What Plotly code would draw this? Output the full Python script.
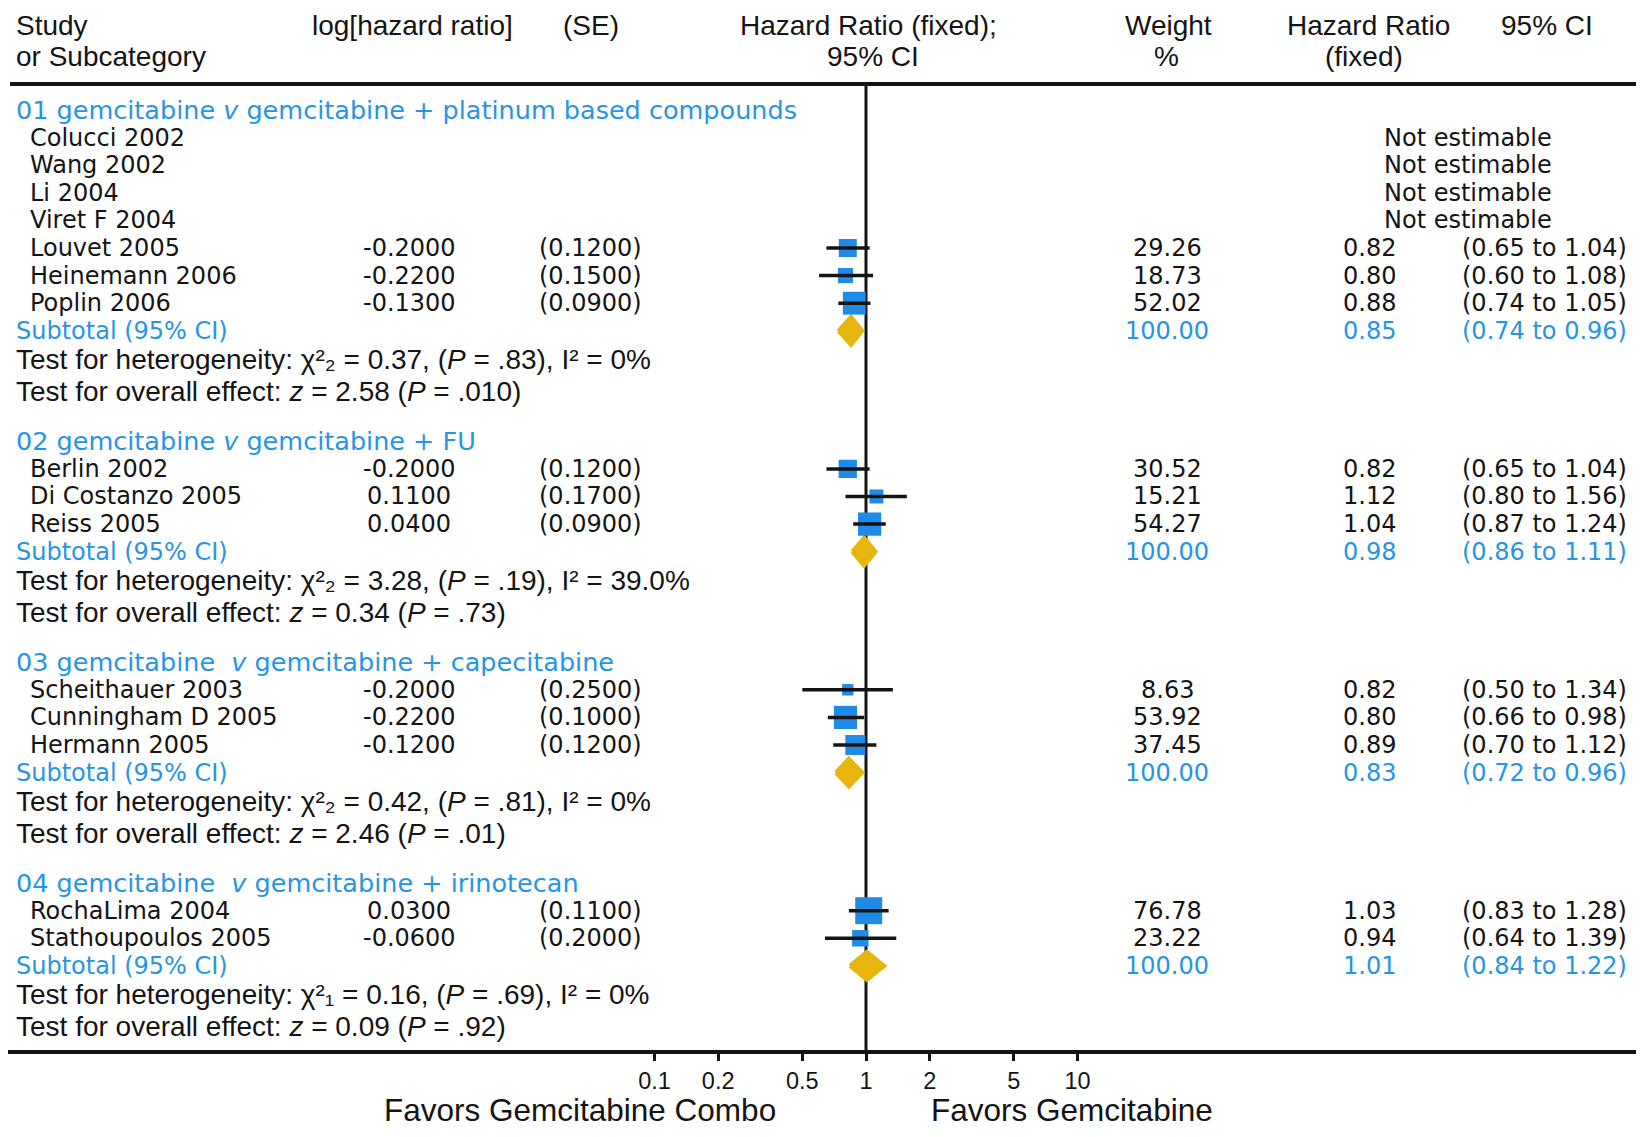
import math
import plotly.graph_objects as go

# ---------------- data ----------------
group_titles = [
    "01 gemcitabine <i>v</i> gemcitabine + platinum based compounds",
    "02 gemcitabine <i>v</i> gemcitabine + FU",
    "03 gemcitabine \u00a0<i>v</i> gemcitabine + capecitabine",
    "04 gemcitabine \u00a0<i>v</i> gemcitabine + irinotecan",
]
study = ["Colucci 2002", "Wang 2002", "Li 2004", "Viret F 2004", "Louvet 2005",
         "Heinemann 2006", "Poplin 2006",
         "Berlin 2002", "Di Costanzo 2005", "Reiss 2005",
         "Scheithauer 2003", "Cunningham D 2005", "Hermann 2005",
         "RochaLima 2004", "Stathoupoulos 2005"]
study_group = [0, 0, 0, 0, 0, 0, 0, 1, 1, 1, 2, 2, 2, 3, 3]
log_hr = [None, None, None, None, -0.2000, -0.2200, -0.1300,
          -0.2000, 0.1100, 0.0400,
          -0.2000, -0.2200, -0.1200,
          0.0300, -0.0600]
se = [None, None, None, None, 0.1200, 0.1500, 0.0900,
      0.1200, 0.1700, 0.0900,
      0.2500, 0.1000, 0.1200,
      0.1100, 0.2000]
weight = [None, None, None, None, 29.26, 18.73, 52.02,
          30.52, 15.21, 54.27,
          8.63, 53.92, 37.45,
          76.78, 23.22]
hr = [None, None, None, None, 0.82, 0.80, 0.88,
      0.82, 1.12, 1.04,
      0.82, 0.80, 0.89,
      1.03, 0.94]
ci_lo = [None, None, None, None, 0.65, 0.60, 0.74,
         0.65, 0.80, 0.87,
         0.50, 0.66, 0.70,
         0.83, 0.64]
ci_hi = [None, None, None, None, 1.04, 1.08, 1.05,
         1.04, 1.56, 1.24,
         1.34, 0.98, 1.12,
         1.28, 1.39]

sub_weight = [100.00, 100.00, 100.00, 100.00]
sub_hr = [0.85, 0.98, 0.83, 1.01]
sub_lo = [0.74, 0.86, 0.72, 0.84]
sub_hi = [0.96, 1.11, 0.96, 1.22]

het_chi = ["0.37", "3.28", "0.42", "0.16"]
het_df = ["\u2082", "\u2082", "\u2082", "\u2081"]
het_p = [".83", ".19", ".81", ".69"]
het_i2 = ["0%", "39.0%", "0%", "0%"]
z_val = ["2.58", "0.34", "2.46", "0.09"]
z_p = [".010", ".73", ".01", ".92"]

tick_vals = [0.1, 0.2, 0.5, 1, 2, 5, 10]
tick_text = ["0.1", "0.2", "0.5", "1", "2", "5", "10"]
null_hr = 1.0

# ---------------- layout helpers ----------------
OFF = 8                     # body margin of the html page
W_FIG, H_FIG = 1644 - 2 * OFF, 1137 - 2 * OFF
TOP_RULE = 84
AXIS_Y = 1050
X_ONE = 866                 # page pixel of HR = 1
DEC = 211.5                 # pixels per decade

def XP(p):
    return (p - OFF) / W_FIG

def YP(p):
    return (AXIS_Y - p) / (AXIS_Y - OFF)

BLACK = "#141414"
BLUE = "#2894e4"
SQ = "#1f8be6"
GOLD = "#e6b60c"
BODY = "DejaVu Sans"
COND = "Liberation Sans, Arial, DejaVu Sans, sans-serif"
BS = 24
CS = 28

annotations = []

def txt(text, x, y, anchor="left", font=BODY, size=BS, color=BLACK):
    annotations.append(dict(text=text, x=XP(x), y=YP(y), xref="paper", yref="paper",
                            xanchor=anchor, yanchor="middle", showarrow=False,
                            font=dict(family=font, size=size, color=color)))

# headers
txt("Study", 14, 25, font=COND, size=CS)
txt("or Subcategory", 14, 57, font=COND, size=CS)
txt("log[hazard ratio]", 310, 25, font=COND, size=CS)
txt("(SE)", 591, 25, "center", font=COND, size=CS)
txt("Hazard Ratio (fixed);", 869, 25, "center", font=COND, size=CS)
txt("95% CI", 873, 57, "center", font=COND, size=CS)
txt("Weight", 1168, 25, "center", font=COND, size=CS)
txt("%", 1166, 57, "center", font=COND, size=CS)
txt("Hazard Ratio", 1368, 25, "center", font=COND, size=CS)
txt("(fixed)", 1364, 57, "center", font=COND, size=CS)
txt("95% CI", 1547, 25, "center", font=COND, size=CS)

fig = go.Figure()

# reference line at HR = 1
fig.add_trace(go.Scatter(x=[null_hr, null_hr], y=[TOP_RULE, AXIS_Y], mode="lines",
                         line=dict(color=BLACK, width=3), hoverinfo="skip", showlegend=False))

ROW = 27.6
sq_x, sq_y, sq_s = [], [], []
ln_x, ln_y = [], []
y = 110
for g in range(len(group_titles)):
    txt(group_titles[g], 14, y, size=25.5, color=BLUE)
    idx = [i for i in range(len(study)) if study_group[i] == g]
    for k, i in enumerate(idx):
        yy = y + ROW * (k + 1)
        txt(study[i], 28, yy)
        if hr[i] is None:
            txt("Not estimable", 1468, yy, "center")
            continue
        txt(f"{log_hr[i]:.4f}", 409, yy, "center")
        txt(f"({se[i]:.4f})", 590, yy, "center")
        txt(f"{weight[i]:.2f}", 1167, yy, "center")
        txt(f"{hr[i]:.2f}", 1369, yy, "center")
        txt(f"({ci_lo[i]:.2f} to {ci_hi[i]:.2f})", 1544, yy, "center")
        sq_x.append(hr[i])
        sq_y.append(yy)
        sq_s.append(3.5 + 2.68 * math.sqrt(weight[i]))
        ln_x += [ci_lo[i], ci_hi[i], None]
        ln_y += [yy, yy, None]
    ys = y + ROW * (len(idx) + 1)
    txt("Subtotal (95% CI)", 14, ys, color=BLUE)
    txt(f"{sub_weight[g]:.2f}", 1167, ys, "center", color=BLUE)
    txt(f"{sub_hr[g]:.2f}", 1369, ys, "center", color=BLUE)
    txt(f"({sub_lo[g]:.2f} to {sub_hi[g]:.2f})", 1544, ys, "center", color=BLUE)
    h = 14
    fig.add_trace(go.Scatter(
        x=[sub_lo[g], sub_hr[g], sub_hi[g], sub_hr[g], sub_lo[g]],
        y=[ys, ys - h, ys, ys + h, ys],
        mode="lines", fill="toself", fillcolor=GOLD,
        line=dict(color=GOLD, width=4), hoverinfo="skip", showlegend=False))
    yh = ys + 29
    txt(f"Test for heterogeneity: \u03c7\u00b2{het_df[g]} = {het_chi[g]}, "
        f"(<i>P</i> = {het_p[g]}), I\u00b2 = {het_i2[g]}", 14, yh, font=COND, size=CS)
    yo = yh + 31.5
    txt(f"Test for overall effect: <i>z</i> = {z_val[g]} (<i>P</i> = {z_p[g]})",
        14, yo, font=COND, size=CS)
    y = yo + 50

fig.add_trace(go.Scatter(x=sq_x, y=sq_y, mode="markers",
                         marker=dict(symbol="square", size=sq_s, color=SQ, opacity=1,
                                     line=dict(width=0)),
                         hoverinfo="skip", showlegend=False))
fig.add_trace(go.Scatter(x=ln_x, y=ln_y, mode="lines",
                         line=dict(color=BLACK, width=3.5), hoverinfo="skip", showlegend=False))

txt("Favors Gemcitabine Combo", 580, 1110, "center", font=COND, size=31.5)
txt("Favors Gemcitabine", 1072, 1110, "center", font=COND, size=31.5)

shapes = [
    dict(type="line", xref="paper", yref="y", x0=XP(10), x1=1, y0=TOP_RULE, y1=TOP_RULE,
         line=dict(color=BLACK, width=4)),
]

fig.update_layout(
    width=W_FIG, height=H_FIG,
    margin=dict(l=0, r=0, t=0, b=H_FIG - (AXIS_Y - OFF), pad=0),
    paper_bgcolor="white", plot_bgcolor="white",
    xaxis=dict(type="log", range=[(OFF - X_ONE) / DEC, (OFF + W_FIG - X_ONE) / DEC],
               tickvals=tick_vals, ticktext=tick_text, ticks="outside", ticklen=7,
               tickwidth=2.5, tickcolor=BLACK, showline=True, linewidth=4, linecolor=BLACK,
               showgrid=False, zeroline=False,
               tickfont=dict(family=COND, size=23.5, color=BLACK)),
    yaxis=dict(range=[AXIS_Y, OFF], showgrid=False, zeroline=False, showticklabels=False,
               showline=False, ticks=""),
    annotations=annotations, shapes=shapes, showlegend=False,
)

fig.write_html("out.html")
